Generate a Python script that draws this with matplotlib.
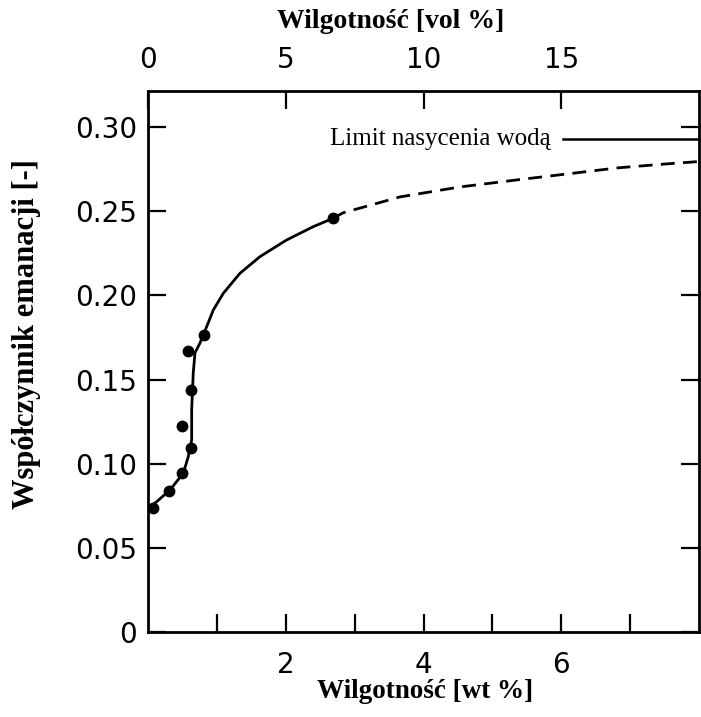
import matplotlib.pyplot as plt

# measured points (wt %, emanation coefficient)
pts_x = [0.07, 0.30, 0.50, 0.62, 0.50, 0.62, 0.585, 0.81, 2.68]
pts_y = [0.0735, 0.0838, 0.0943, 0.1095, 0.1226, 0.1438, 0.1671, 0.1765, 0.2458]

# solid fitted curve
fit_x = [0.0, 0.126, 0.319, 0.512, 0.585, 0.634, 0.634, 0.657, 0.682, 0.755,
         0.852, 0.948, 1.093, 1.335, 1.626, 2.013, 2.399, 2.689]
fit_y = [0.0735, 0.0774, 0.0844, 0.0943, 0.1042, 0.1141, 0.1319, 0.1539, 0.1658, 0.1717,
         0.1814, 0.1913, 0.2012, 0.2131, 0.2230, 0.2329, 0.2408, 0.2458]

# dashed extrapolation
ext_x = [2.689, 2.83, 3.66, 4.53, 5.36, 6.08, 6.81, 7.53, 8.0]
ext_y = [0.2458, 0.249, 0.2585, 0.2644, 0.2686, 0.2721, 0.2757, 0.2781, 0.2795]

# saturation limit
limit_y = 0.293
limit_x = [6.02, 8.0]

y_ticks = [0, 0.05, 0.10, 0.15, 0.20, 0.25, 0.30]
y_labels = ["0", "0.05", "0.10", "0.15", "0.20", "0.25", "0.30"]
x_major = [2, 4, 6]
x_minor = [1, 3, 5, 7]
vol_ticks = [0, 5, 10, 15]
vol_per_wt = 2.5

fig = plt.figure(figsize=(7.01, 7.17), dpi=100)
ax = fig.add_axes([148 / 701, 1 - 632 / 717, 551 / 701, 541 / 717])

ax.plot(fit_x, fit_y, color="black", lw=2.0)
ax.plot(ext_x, ext_y, color="black", lw=2.0, dashes=(5, 3))
ax.plot(pts_x, pts_y, "o", color="black", ms=7.5)
ax.plot(limit_x, [limit_y, limit_y], color="black", lw=1.8)
ax.text(5.85, limit_y, "Limit nasycenia wodą", family="Liberation Serif",
        fontsize=18, ha="right", va="center")

ax.set_xlim(0, 8)
ax.set_ylim(0, 0.3214)

serif = "Liberation Serif"
tick_font = "DejaVu Sans"

ax.set_yticks(y_ticks)
ax.set_yticklabels(y_labels, family=tick_font, fontsize=20)
ax.set_xticks(x_major)
ax.set_xticklabels([str(v) for v in x_major], family=tick_font, fontsize=20)
ax.set_xticks(x_minor, minor=True)

ax.tick_params(axis="both", which="both", direction="in", length=13, width=1.6,
               top=False, right=True)
ax.tick_params(axis="y", pad=8)
ax.tick_params(axis="x", pad=14)
for s in ax.spines.values():
    s.set_linewidth(2.0)

top = ax.secondary_xaxis("top", functions=(lambda w: w * vol_per_wt, lambda v: v / vol_per_wt))
top.set_xticks(vol_ticks)
top.set_xticklabels([str(v) for v in vol_ticks], family=tick_font, fontsize=20)
top.tick_params(direction="in", length=13, width=1.6, pad=12)

fig.text(391 / 701, 1 - 22 / 717, "Wilgotność [vol %]", family=serif, weight="bold",
         fontsize=20, ha="center", va="center")
fig.text(425 / 701, 1 - 692 / 717, "Wilgotność [wt %]", family=serif, weight="bold",
         fontsize=19.5, ha="center", va="center")
fig.text(27 / 701, 1 - 334 / 717, "Współczynnik emanacji [-]", family=serif, weight="bold",
         fontsize=22, ha="center", va="center", rotation=90)

fig.savefig("out.png", dpi=100, facecolor="white")
